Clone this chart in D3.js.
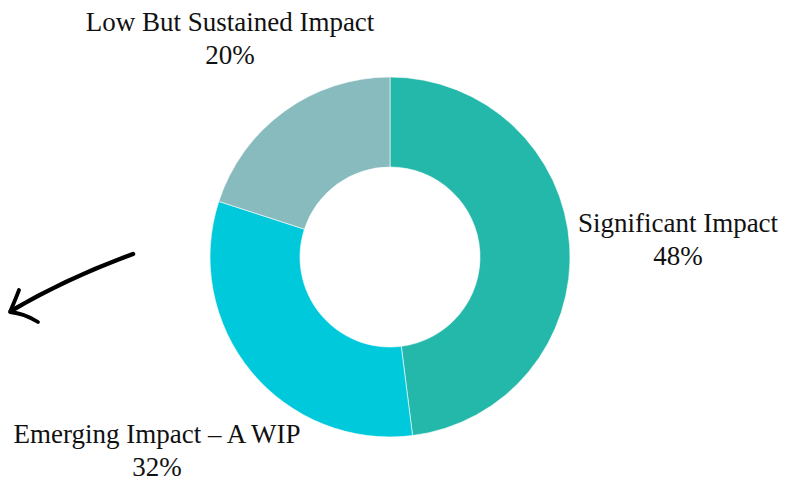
<!DOCTYPE html>
<html>
<head>
<meta charset="utf-8">
<script src="https://cdn.jsdelivr.net/npm/d3@7"></script>
<style>
  body { margin: 0; background: #fff; }
  svg text { font-family: "Liberation Serif", "DejaVu Serif", serif; fill: #111; }
</style>
</head>
<body>
<svg id="chart" width="795" height="481"></svg>
<script>
// Impact categories, clockwise from 12 o'clock
var categories = ["Significant Impact", "Emerging Impact \u2013 A WIP", "Low But Sustained Impact"];
var shares = [48, 32, 20];
var colors = ["#23b8a9", "#00c9db", "#88bbbe"];

// label anchor (centre of first line baseline) per slice
var labelPos = [[678, 232], [157, 443], [230, 31]];

var WIDTH = 795, HEIGHT = 481;
var CX = 390, CY = 257;
var OUTER = 180, INNER = 90;
var FONT_SIZE = 27;
var LINE_GAP = 33;

var svg = d3.select("#chart");

var pie = d3.pie().sort(null).value(function (d) { return d; });
var arc = d3.arc().innerRadius(INNER).outerRadius(OUTER);

var slices = pie(shares);

svg.append("g")
  .attr("transform", "translate(" + CX + "," + CY + ")")
  .selectAll("path")
  .data(slices)
  .enter()
  .append("path")
  .attr("d", arc)
  .style("fill", function (d, i) { return colors[i]; })
  .style("stroke", "#fff")
  .style("stroke-width", 0.6);

// ##### Labels #####
var labels = svg.append("g").selectAll("g")
  .data(slices)
  .enter()
  .append("g")
  .attr("transform", function (d, i) {
    return "translate(" + labelPos[i][0] + "," + labelPos[i][1] + ")";
  });

labels.append("text")
  .attr("text-anchor", "middle")
  .style("font-size", FONT_SIZE + "px")
  .text(function (d, i) { return categories[i]; });

labels.append("text")
  .attr("text-anchor", "middle")
  .attr("y", LINE_GAP)
  .style("font-size", FONT_SIZE + "px")
  .text(function (d) { return d.data + "%"; });

// hand drawn arrow pointing left
var arrow = svg.append("g")
  .style("fill", "none")
  .style("stroke", "#000")
  .style("stroke-linecap", "round")
  .style("stroke-linejoin", "round");

arrow.append("path")
  .attr("d", "M133,254 C95,268 50,288 11,311")
  .style("stroke-width", 4.5);
arrow.append("path")
  .attr("d", "M19,290 C16,298 13,305 10,312 C20,313 30,317 38,322")
  .style("stroke-width", 3.8);
</script>
</body>
</html>
